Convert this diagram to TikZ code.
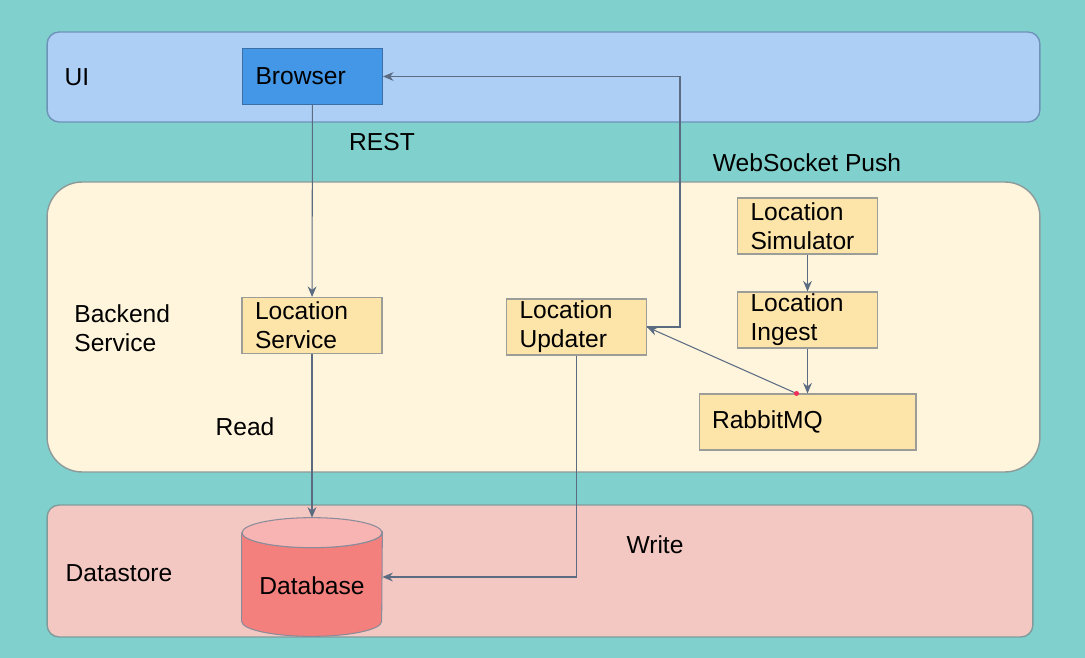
\documentclass[tikz,border=0pt]{standalone}
\usepackage{fontspec}
\setmainfont{Liberation Sans}
\usetikzlibrary{arrows.meta,positioning}
\definecolor{sea}{HTML}{80D1CD}
\definecolor{uifill}{HTML}{AECFF5}
\definecolor{uiline}{HTML}{6F93B8}
\definecolor{bluebox}{HTML}{4397E6}
\definecolor{blueline}{HTML}{3A6FA8}
\definecolor{befill}{HTML}{FFF5DC}
\definecolor{beline}{HTML}{8E9A9A}
\definecolor{boxfill}{HTML}{FDE4A9}
\definecolor{boxline}{HTML}{9C9C98}
\definecolor{dsfill}{HTML}{F4C8C2}
\definecolor{dsline}{HTML}{7E9C9C}
\definecolor{dbbody}{HTML}{F4807D}
\definecolor{dbtop}{HTML}{F8B3B3}
\definecolor{dbline}{HTML}{8A8C9A}
\definecolor{linkcol}{HTML}{5A6B82}
\definecolor{dotred}{HTML}{F0305A}
\tikzset{
    panel/.style={draw=#1, line width=0.8pt, inner sep=0pt},
    svcbox/.style={draw=boxline, fill=boxfill, line width=0.6pt, minimum height=1.12cm,
        text width=2.28cm, inner xsep=0.26cm, inner ysep=1pt, align=left},
    link/.style={draw=linkcol, line width=0.6pt, -{Stealth[length=6pt,width=5pt]}}
}

\begin{document}
\begin{tikzpicture}[x=0.02cm, y=-0.02cm, font=\fontsize{14}{16.5}\selectfont]
                        \fill[sea] (0, 0) rectangle (1085, 658);
                        \useasboundingbox (0, 0) rectangle (1085, 658);

                        \node[panel=uiline, fill=uifill, rounded corners=0.24cm, minimum width=19.86cm, minimum height=1.8cm] (ui) at (543.5, 77) {};
                        \node[panel=beline, fill=befill, rounded corners=0.7cm, minimum width=19.86cm, minimum height=5.8cm] (backend) at (543.5, 327) {};
                        \node[panel=dsline, fill=dsfill, rounded corners=0.24cm, minimum width=19.72cm, minimum height=2.64cm] (store) at (540, 571) {};

                        \node (uilabel) at (77, 77) {UI};
                        \node[anchor=west, align=left, inner sep=0pt] (belabel) at (74, 328) {Backend\\Service};
                        \node (dslabel) at (119, 573) {Datastore};

                        \node[svcbox, draw=blueline, fill=bluebox] (browser) at (312.5, 76.5) {Browser};
                        \node[svcbox] (locsvc) at (312, 325.5) {Location\\Service};
                        \node[svcbox] (updater) at (576.5, 327) {Location\\Updater};
                        \node[svcbox] (sim) at (807.5, 226) {Location\\Simulator};
                        \node[svcbox] (ingest) at (807.5, 320) {Location\\Ingest};
                        \node[svcbox, text width=3.82cm] (rabbit) at (807.5, 422) {RabbitMQ};
                        \node[minimum width=2.8cm, minimum height=2.36cm, inner sep=0pt] (db) at (312, 577) {};

                        % database drum
                        \fill[dbbody, draw=dbline, line width=0.6pt]
                        ([yshift=-0.3cm]db.north west) -- ([yshift=0.3cm]db.south west)
                        arc[start angle=180, end angle=360, x radius=1.4cm, y radius=0.3cm]
                        -- ([yshift=-0.3cm]db.north east)
                        arc[start angle=0, end angle=-180, x radius=1.4cm, y radius=0.3cm];
                        \filldraw[fill=dbtop, draw=dbline, line width=0.6pt]
                        ([yshift=-0.3cm]db.north) ellipse[x radius=1.4cm, y radius=0.3cm];
                        \node (dblabel) at (312, 586) {Database};

                        \node (rest) at (382, 142) {REST};
                        \node (push) at (807, 163) {WebSocket Push};
                        \node (read) at (245, 427) {Read};
                        \node (write) at (655, 545) {Write};

                        \coordinate (mq) at ([xshift=-0.22cm]rabbit.north);

                        \draw[link] (browser) -- (locsvc);
                        \draw[link] (locsvc) -- (db.north);
                        \draw[link] (updater.south) |- (db.east);
                        \draw[link] (updater.east) -- ++(0.66cm, 0) |- (browser.east);
                        \draw[link] (mq) -- (updater.east);
                        \draw[link] (sim) -- (ingest);
                        \draw[link] (ingest) -- (rabbit);
                        \fill[dotred] (mq) circle (2.5);
                    \end{tikzpicture}
\end{document}
